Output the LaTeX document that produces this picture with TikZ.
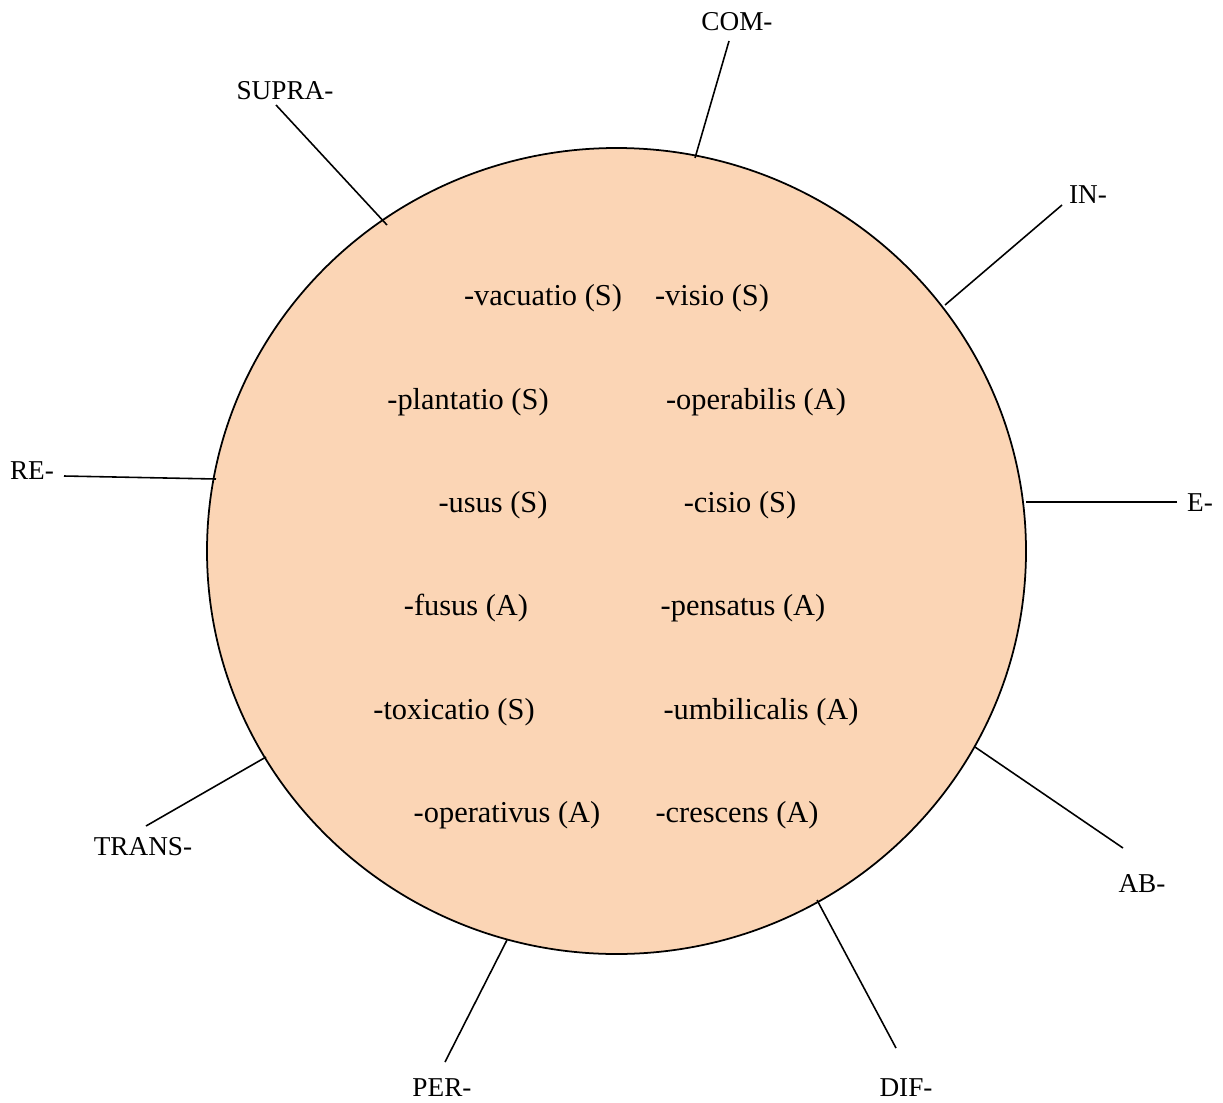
\documentclass[tikz,border=0pt]{standalone}
\usepackage{fontspec}
\setmainfont{Liberation Serif}
\usepackage{tikz}
\usetikzlibrary{positioning}
\definecolor{peach}{RGB}{251,213,181}
\tikzset{
  word/.style={font=\fontsize{17.3}{20}\selectfont, inner sep=0pt},
  pfxlabel/.style={font=\fontsize{15.5}{18}\selectfont, inner sep=0pt},
  spoke/.style={line width=0.9pt}
}
\begin{document}
\begin{tikzpicture}[x=0.02cm,y=-0.02cm]
\useasboundingbox (0,0) rectangle (1223,1102);
% the circle
\filldraw[fill=peach,line width=1pt] (616.5,551) ellipse [x radius=409.5,y radius=403];
% stems inside
\node[word] (vac) at (543,298) {-vacuatio (S)};
\node[word] (vis) at (712,298) {-visio (S)};
\node[word] (pla) at (468,402) {-plantatio (S)};
\node[word] (ope) at (756,402) {-operabilis (A)};
\node[word] (usu) at (493,505) {-usus (S)};
\node[word] (cis) at (740,505) {-cisio (S)};
\node[word] (fus) at (466,608) {-fusus (A)};
\node[word] (pen) at (743,608) {-pensatus (A)};
\node[word] (tox) at (454,712) {-toxicatio (S)};
\node[word] (umb) at (761,712) {-umbilicalis (A)};
\node[word] (opv) at (507,815) {-operativus (A)};
\node[word] (cre) at (737,815) {-crescens (A)};
% prefixes
\node[pfxlabel] (com) at (737,22) {COM-};
\node[pfxlabel] (sup) at (285,91) {SUPRA-};
\node[pfxlabel] (in) at (1088,195) {IN-};
\node[pfxlabel] (re) at (32,471) {RE-};
\node[pfxlabel] (e) at (1200,503) {E-};
\node[pfxlabel] (ab) at (1142,884) {AB-};
\node[pfxlabel] (dif) at (906,1088) {DIF-};
\node[pfxlabel] (per) at (442,1088) {PER-};
\node[pfxlabel] (tra) at (143,847) {TRANS-};
% spoke ends
\coordinate (com1) at (729,41);  \coordinate (com2) at (695,158);
\coordinate (sup1) at (276,105); \coordinate (sup2) at (387,225);
\coordinate (in1) at (1062,205); \coordinate (in2) at (945,305);
\coordinate (re1) at (64,476);   \coordinate (re2) at (216,479);
\coordinate (e1) at (1177,502);  \coordinate (e2) at (1026,502);
\coordinate (ab1) at (1123,848); \coordinate (ab2) at (975,747);
\coordinate (dif1) at (896,1048); \coordinate (dif2) at (817,900);
\coordinate (per1) at (445,1062); \coordinate (per2) at (507,940);
\coordinate (tra1) at (146,826); \coordinate (tra2) at (266,757);
\foreach \p in {com,sup,in,re,e,ab,dif,per,tra}
  \draw[spoke] (\p1) -- (\p2);
\end{tikzpicture}
\end{document}
